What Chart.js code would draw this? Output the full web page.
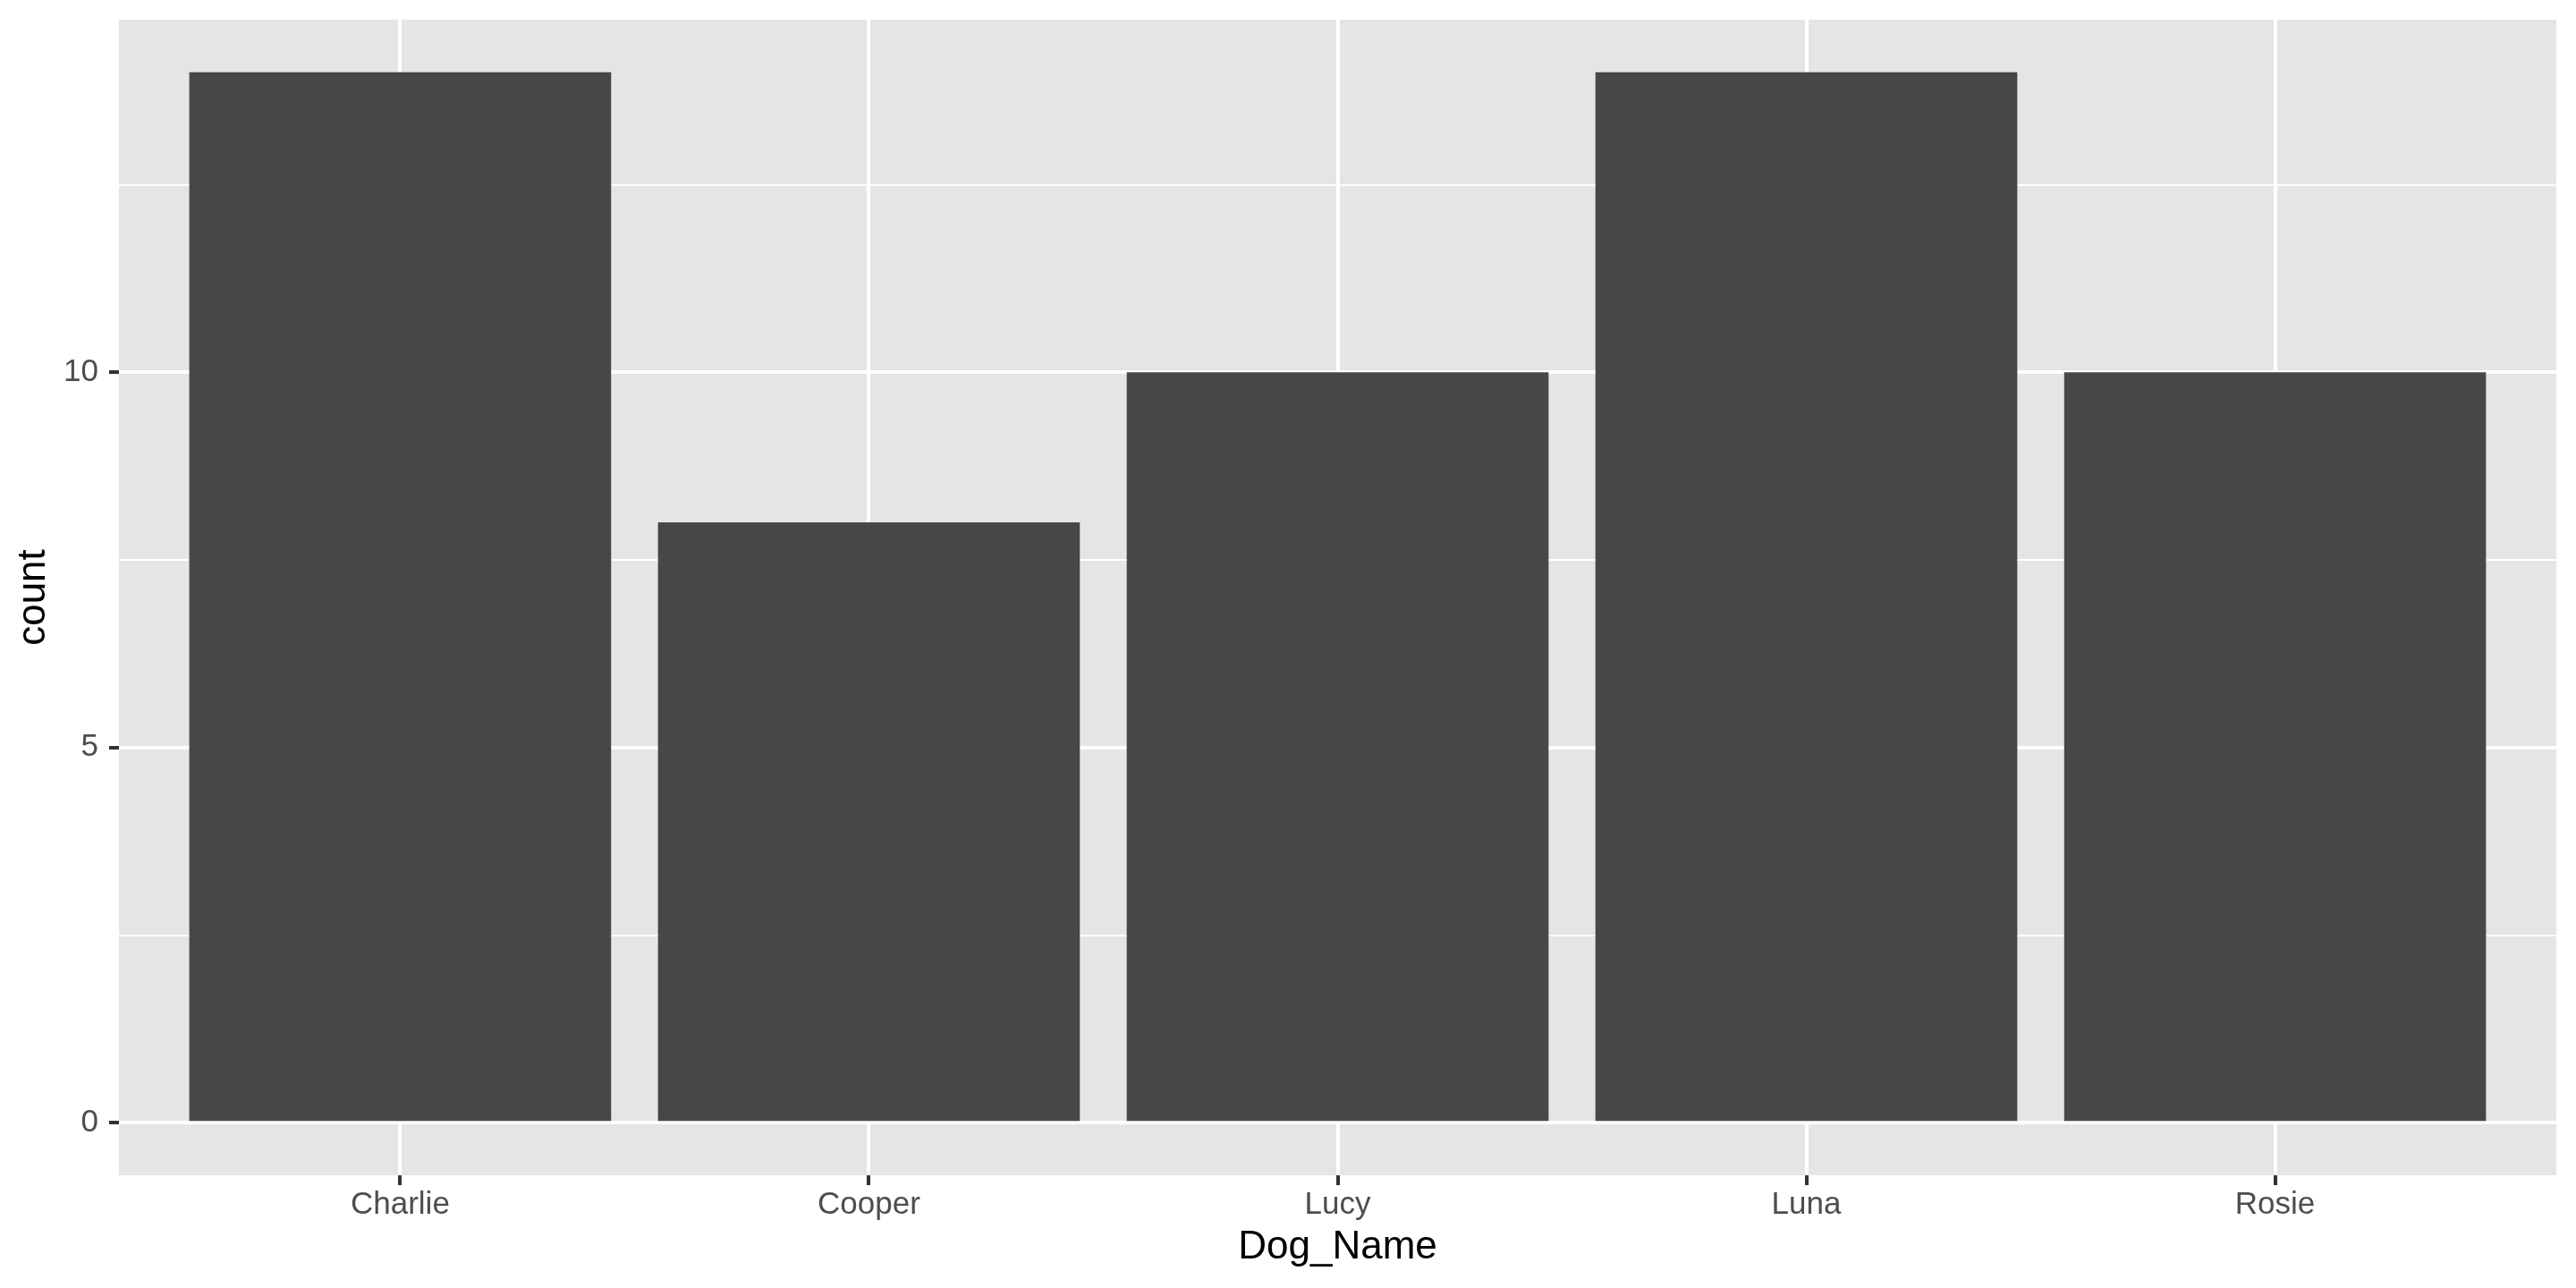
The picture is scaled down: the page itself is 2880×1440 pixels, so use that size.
<!DOCTYPE html>
<html>
<head>
<meta charset="utf-8">
<title>Dog names</title>
<script src="https://cdn.jsdelivr.net/npm/chart.js@4/dist/chart.umd.min.js"></script>
<style>
    html, body { margin: 0; padding: 0; background: #ffffff; }
    #wrap { width: 2880px; height: 1440px; }
</style>
</head>
<body>
<div id="wrap"><canvas id="dogChart" width="2880" height="1440"></canvas></div>
<script>
// Data
const dogNames = ["Charlie", "Cooper", "Lucy", "Luna", "Rosie"];
const dogCounts = [14, 8, 10, 14, 10];
const yMajorTicks = [0, 5, 10];
const yMinorTicks = [2.5, 7.5, 12.5];

const FONT = "'Liberation Sans', Arial, Helvetica, sans-serif";

// Grey panel behind the plot area, like ggplot's theme_grey
const panelBackground = {
    id: "panelBackground",
    beforeDraw(chart) {
        const { ctx, chartArea } = chart;
        ctx.save();
        ctx.fillStyle = "#e5e5e5";
        ctx.fillRect(chartArea.left, chartArea.top, chartArea.right - chartArea.left, chartArea.bottom - chartArea.top);
        ctx.restore();
    }
};

function isMajor(v) {
    return yMajorTicks.includes(v);
}

let dogChart = new Chart(document.getElementById("dogChart").getContext("2d"), {
    type: "bar",
    data: {
        datasets: [{
            label: "count",
            data: dogNames.map((n, i) => ({ x: i, y: dogCounts[i] })),
            backgroundColor: "#474747",
            borderWidth: 0,
            barPercentage: 0.9,
            categoryPercentage: 1.0
        }]
    },
    options: {
        responsive: false,
        animation: false,
        layout: { padding: { top: 22, right: 22, left: 0, bottom: 0 } },
        plugins: {
            legend: { display: false },
            tooltip: { enabled: false }
        },
        scales: {
            x: {
                type: "linear",
                min: -0.6,
                max: 4.6,
                offset: false,
                border: { display: false },
                grid: {
                    offset: false,
                    color: "#ffffff",
                    lineWidth: 4,
                    tickColor: "#333333",
                    tickWidth: 4,
                    tickLength: 11
                },
                afterBuildTicks: axis => {
                    axis.ticks = dogNames.map((n, i) => ({ value: i }));
                },
                afterFit: scale => {
                    scale.height = 126;
                    scale.paddingLeft = 0;
                    scale.paddingRight = 0;
                },
                ticks: {
                    autoSkip: false,
                    maxRotation: 0,
                    padding: 1,
                    color: "#4d4d4d",
                    font: { family: FONT, size: 35 },
                    callback: v => dogNames[v]
                },
                title: {
                    display: true,
                    text: "Dog_Name",
                    color: "#000000",
                    font: { family: FONT, size: 44, lineHeight: 1.2 },
                    padding: { top: 0, bottom: 19 }
                }
            },
            y: {
                type: "linear",
                min: -0.7,
                max: 14.7,
                border: { display: false },
                grid: {
                    color: "#ffffff",
                    lineWidth: ctx => isMajor(ctx.tick.value) ? 4 : 2,
                    tickColor: ctx => isMajor(ctx.tick.value) ? "#333333" : "rgba(0,0,0,0)",
                    tickWidth: 4,
                    tickLength: 11
                },
                afterBuildTicks: axis => {
                    axis.ticks = yMajorTicks.concat(yMinorTicks).sort((a, b) => a - b).map(v => ({ value: v }));
                },
                afterFit: scale => {
                    scale.width = 133;
                    scale.paddingTop = 0;
                    scale.paddingBottom = 0;
                },
                ticks: {
                    padding: 12,
                    color: "#4d4d4d",
                    font: { family: FONT, size: 35 },
                    callback: v => isMajor(v) ? String(v) : ""
                },
                title: {
                    display: true,
                    text: "count",
                    color: "#000000",
                    font: { family: FONT, size: 44, lineHeight: 1.2 },
                    padding: { top: 11, bottom: 0 }
                }
            }
        }
    },
    plugins: [panelBackground]
});
</script>
</body>
</html>
